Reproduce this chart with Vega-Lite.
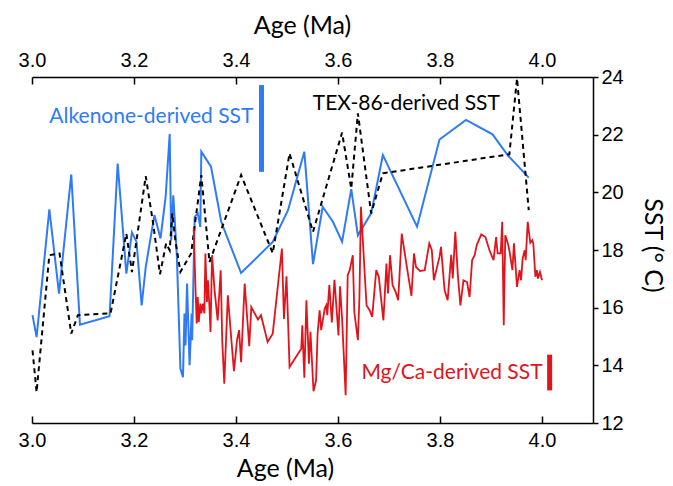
{
  "$schema": "https://vega.github.io/schema/vega-lite/v6.json",
  "width": 561,
  "height": 346,
  "autosize": {"type": "none"},
  "padding": {"left": 32, "top": 77, "right": 80, "bottom": 63},
  "background": "white",
  "config": {
    "view": {"stroke": null},
    "axis": {
      "grid": false,
      "domainColor": "black",
      "tickColor": "black",
      "labelColor": "black",
      "titleColor": "black",
      "labelFont": "Liberation Sans",
      "labelFontSize": 20,
      "titleFont": "Lato",
      "titleFontSize": 25,
      "titleFontWeight": "normal",
      "domainWidth": 1.5,
      "tickWidth": 1.5
    }
  },
  "datasets": {
    "alk": [
      {"age": 3.001, "sst": 15.74}, {"age": 3.009, "sst": 14.98}, {"age": 3.034, "sst": 19.41}, {"age": 3.053, "sst": 16.49},
      {"age": 3.077, "sst": 20.62}, {"age": 3.094, "sst": 15.41}, {"age": 3.152, "sst": 15.70}, {"age": 3.168, "sst": 21.0},
      {"age": 3.185, "sst": 17.18}, {"age": 3.196, "sst": 18.61}, {"age": 3.205, "sst": 18.28}, {"age": 3.215, "sst": 16.08},
      {"age": 3.223, "sst": 17.41}, {"age": 3.240, "sst": 19.21}, {"age": 3.252, "sst": 18.40}, {"age": 3.262, "sst": 19.84},
      {"age": 3.270, "sst": 22.02}, {"age": 3.273, "sst": 18.34}, {"age": 3.277, "sst": 19.90}, {"age": 3.284, "sst": 17.82},
      {"age": 3.291, "sst": 13.89}, {"age": 3.296, "sst": 13.59}, {"age": 3.299, "sst": 15.8}, {"age": 3.301, "sst": 14.69},
      {"age": 3.304, "sst": 16.84}, {"age": 3.309, "sst": 14.0}, {"age": 3.313, "sst": 15.8}, {"age": 3.314, "sst": 14.87},
      {"age": 3.319, "sst": 19.15}, {"age": 3.325, "sst": 19.27}, {"age": 3.330, "sst": 18.80}, {"age": 3.332, "sst": 21.41},
      {"age": 3.351, "sst": 20.89}, {"age": 3.371, "sst": 18.98}, {"age": 3.410, "sst": 17.20}, {"age": 3.472, "sst": 18.28},
      {"age": 3.502, "sst": 19.38}, {"age": 3.534, "sst": 21.41}, {"age": 3.551, "sst": 17.51}, {"age": 3.570, "sst": 19.50},
      {"age": 3.590, "sst": 18.98}, {"age": 3.608, "sst": 18.29}, {"age": 3.626, "sst": 20.11}, {"age": 3.639, "sst": 18.51},
      {"age": 3.665, "sst": 19.27}, {"age": 3.688, "sst": 21.29}, {"age": 3.755, "sst": 18.81}, {"age": 3.799, "sst": 21.83},
      {"age": 3.851, "sst": 22.51}, {"age": 3.903, "sst": 22.01}, {"age": 3.934, "sst": 21.26}, {"age": 3.974, "sst": 20.51}
    ],
    "tex": [
      {"age": 3.001, "sst": 14.52}, {"age": 3.009, "sst": 13.07}, {"age": 3.034, "sst": 17.82}, {"age": 3.054, "sst": 17.88},
      {"age": 3.077, "sst": 15.10}, {"age": 3.090, "sst": 15.74}, {"age": 3.154, "sst": 15.80}, {"age": 3.185, "sst": 18.57},
      {"age": 3.196, "sst": 17.23}, {"age": 3.223, "sst": 20.56}, {"age": 3.237, "sst": 18.98}, {"age": 3.251, "sst": 17.16},
      {"age": 3.263, "sst": 18.23}, {"age": 3.270, "sst": 17.99}, {"age": 3.275, "sst": 19.27}, {"age": 3.281, "sst": 18.34},
      {"age": 3.291, "sst": 17.24}, {"age": 3.312, "sst": 17.88}, {"age": 3.332, "sst": 20.60}, {"age": 3.348, "sst": 17.58},
      {"age": 3.410, "sst": 20.60}, {"age": 3.472, "sst": 17.89}, {"age": 3.505, "sst": 21.35}, {"age": 3.551, "sst": 18.63},
      {"age": 3.608, "sst": 22.07}, {"age": 3.626, "sst": 20.13}, {"age": 3.639, "sst": 22.74}, {"age": 3.665, "sst": 19.27},
      {"age": 3.688, "sst": 20.66}, {"age": 3.936, "sst": 21.32}, {"age": 3.951, "sst": 23.95}, {"age": 3.974, "sst": 19.38}
    ],
    "mg": [
      {"age": 3.317, "sst": 18.75}, {"age": 3.321, "sst": 16.43}, {"age": 3.323, "sst": 15.45}, {"age": 3.325, "sst": 16.37},
      {"age": 3.327, "sst": 15.50}, {"age": 3.330, "sst": 16.14}, {"age": 3.332, "sst": 15.80}, {"age": 3.335, "sst": 16.14},
      {"age": 3.338, "sst": 15.80}, {"age": 3.340, "sst": 17.88}, {"age": 3.343, "sst": 16.20}, {"age": 3.345, "sst": 16.95},
      {"age": 3.348, "sst": 16.02}, {"age": 3.350, "sst": 15.16}, {"age": 3.353, "sst": 17.82}, {"age": 3.358, "sst": 16.60},
      {"age": 3.364, "sst": 15.56}, {"age": 3.370, "sst": 17.30}, {"age": 3.373, "sst": 14.87}, {"age": 3.377, "sst": 13.36},
      {"age": 3.384, "sst": 16.43}, {"age": 3.391, "sst": 14.87}, {"age": 3.396, "sst": 13.80}, {"age": 3.402, "sst": 14.87},
      {"age": 3.406, "sst": 15.22}, {"age": 3.410, "sst": 14.11}, {"age": 3.417, "sst": 16.84}, {"age": 3.426, "sst": 14.66},
      {"age": 3.430, "sst": 16.02}, {"age": 3.443, "sst": 15.59}, {"age": 3.449, "sst": 15.74}, {"age": 3.462, "sst": 14.81},
      {"age": 3.472, "sst": 15.10}, {"age": 3.490, "sst": 18.05}, {"age": 3.494, "sst": 15.61}, {"age": 3.499, "sst": 17.09},
      {"age": 3.503, "sst": 15.04}, {"age": 3.505, "sst": 13.94}, {"age": 3.528, "sst": 14.58}, {"age": 3.530, "sst": 15.39},
      {"age": 3.534, "sst": 13.57}, {"age": 3.538, "sst": 16.26}, {"age": 3.543, "sst": 14.06}, {"age": 3.546, "sst": 15.16},
      {"age": 3.552, "sst": 13.10}, {"age": 3.557, "sst": 13.48}, {"age": 3.560, "sst": 15.10}, {"age": 3.564, "sst": 15.91},
      {"age": 3.567, "sst": 15.22}, {"age": 3.574, "sst": 15.97}, {"age": 3.577, "sst": 16.08}, {"age": 3.579, "sst": 15.74},
      {"age": 3.583, "sst": 16.78}, {"age": 3.588, "sst": 15.49}, {"age": 3.593, "sst": 16.97}, {"age": 3.601, "sst": 15.04},
      {"age": 3.604, "sst": 16.74}, {"age": 3.608, "sst": 15.63}, {"age": 3.615, "sst": 12.96}, {"age": 3.619, "sst": 17.13},
      {"age": 3.623, "sst": 17.30}, {"age": 3.629, "sst": 17.82}, {"age": 3.632, "sst": 15.85}, {"age": 3.639, "sst": 14.87},
      {"age": 3.642, "sst": 16.36}, {"age": 3.645, "sst": 19.50}, {"age": 3.652, "sst": 17.30}, {"age": 3.656, "sst": 16.08},
      {"age": 3.662, "sst": 15.91}, {"age": 3.667, "sst": 15.68}, {"age": 3.675, "sst": 17.30}, {"age": 3.680, "sst": 17.07},
      {"age": 3.689, "sst": 15.56}, {"age": 3.695, "sst": 17.53}, {"age": 3.698, "sst": 16.49}, {"age": 3.702, "sst": 17.82},
      {"age": 3.707, "sst": 16.78}, {"age": 3.713, "sst": 16.55}, {"age": 3.718, "sst": 16.26}, {"age": 3.725, "sst": 18.57},
      {"age": 3.734, "sst": 17.53}, {"age": 3.744, "sst": 16.41}, {"age": 3.749, "sst": 17.88}, {"age": 3.753, "sst": 17.41},
      {"age": 3.761, "sst": 17.27}, {"age": 3.770, "sst": 17.30}, {"age": 3.779, "sst": 18.23}, {"age": 3.784, "sst": 17.99},
      {"age": 3.788, "sst": 16.95}, {"age": 3.799, "sst": 17.76}, {"age": 3.802, "sst": 18.11}, {"age": 3.809, "sst": 16.60},
      {"age": 3.815, "sst": 16.26}, {"age": 3.822, "sst": 17.83}, {"age": 3.825, "sst": 17.01}, {"age": 3.830, "sst": 18.63},
      {"age": 3.835, "sst": 17.13}, {"age": 3.840, "sst": 16.08}, {"age": 3.846, "sst": 16.95}, {"age": 3.853, "sst": 16.89},
      {"age": 3.858, "sst": 16.37}, {"age": 3.863, "sst": 17.65}, {"age": 3.868, "sst": 17.82}, {"age": 3.872, "sst": 18.17},
      {"age": 3.881, "sst": 18.54}, {"age": 3.889, "sst": 18.45}, {"age": 3.897, "sst": 17.99}, {"age": 3.905, "sst": 17.65},
      {"age": 3.910, "sst": 18.45}, {"age": 3.913, "sst": 17.88}, {"age": 3.919, "sst": 17.88}, {"age": 3.922, "sst": 18.98},
      {"age": 3.925, "sst": 15.39}, {"age": 3.928, "sst": 18.51}, {"age": 3.933, "sst": 18.23}, {"age": 3.936, "sst": 17.99},
      {"age": 3.942, "sst": 17.30}, {"age": 3.945, "sst": 18.23}, {"age": 3.951, "sst": 16.72}, {"age": 3.956, "sst": 17.30},
      {"age": 3.959, "sst": 16.95}, {"age": 3.962, "sst": 17.70}, {"age": 3.966, "sst": 17.99}, {"age": 3.968, "sst": 17.65},
      {"age": 3.972, "sst": 18.98}, {"age": 3.977, "sst": 18.25}, {"age": 3.981, "sst": 18.34}, {"age": 3.983, "sst": 18.23},
      {"age": 3.987, "sst": 17.07}, {"age": 3.990, "sst": 17.30}, {"age": 3.992, "sst": 17.01}, {"age": 3.996, "sst": 17.24},
      {"age": 4.000, "sst": 16.95}
    ],
    "bars": [
      {"series": "Alkenone", "age": 3.45, "sst": 23.72, "sst2": 20.71},
      {"series": "MgCa", "age": 4.015, "sst": 14.37, "sst2": 13.13}
    ],
    "labels": [
      {"series": "Alkenone", "age": 3.234, "sst": 22.40, "text": "Alkenone-derived SST"},
      {"series": "TEX86", "age": 3.734, "sst": 22.85, "text": "TEX-86-derived SST"},
      {"series": "MgCa", "age": 3.8235, "sst": 13.54, "text": "Mg/Ca-derived SST"}
    ]
  },
  "layer": [
    {
      "data": {"name": "alk"},
      "mark": {"type": "line", "color": "#2f7bf5", "strokeWidth": 2},
      "encoding": {
        "x": {
          "field": "age", "type": "quantitative",
          "scale": {"domain": [3.0, 4.1], "nice": false, "zero": false},
          "axis": {
            "orient": "top", "values": [3.0, 3.2, 3.4, 3.6, 3.8, 4.0], "format": ".1f",
            "title": "Age (Ma)", "tickSize": -7, "labelPadding": 14, "labelFlush": false,
            "titleX": 270, "titleY": -52, "titleAlign": "center", "titleBaseline": "middle"
          }
        },
        "y": {
          "field": "sst", "type": "quantitative",
          "scale": {"domain": [12, 24], "nice": false, "zero": false},
          "axis": {
            "orient": "right", "values": [12, 14, 16, 18, 20, 22, 24], "title": "SST (° C)",
            "tickSize": 5, "labelPadding": 3, "labelFlush": false, "labelAlign": "left", "labelBaseline": "middle",
            "titleAngle": 90, "titleX": 59, "titleY": 168, "titleAlign": "center", "titleBaseline": "middle"
          }
        }
      }
    },
    {
      "data": {"name": "tex"},
      "mark": {"type": "line", "color": "black", "strokeWidth": 2, "strokeDash": [5, 4]},
      "encoding": {
        "x": {"field": "age", "type": "quantitative", "axis": null},
        "y": {"field": "sst", "type": "quantitative", "axis": null}
      }
    },
    {
      "data": {"name": "mg"},
      "mark": {"type": "line", "color": "#e0151b", "strokeWidth": 1.8},
      "encoding": {
        "x": {
          "field": "age", "type": "quantitative",
          "axis": {
            "orient": "bottom", "values": [3.0, 3.2, 3.4, 3.6, 3.8, 4.0], "format": ".1f",
            "title": "Age (Ma)", "tickSize": -7, "labelPadding": 14, "labelFlush": false,
            "titleX": 253, "titleY": 45, "titleAlign": "center", "titleBaseline": "middle"
          }
        },
        "y": {"field": "sst", "type": "quantitative", "axis": null}
      }
    },
    {
      "data": {"name": "bars"},
      "mark": {"type": "rule", "strokeWidth": 5},
      "encoding": {
        "x": {"field": "age", "type": "quantitative", "axis": null},
        "y": {"field": "sst", "type": "quantitative", "axis": null},
        "y2": {"field": "sst2"},
        "color": {
          "field": "series", "type": "nominal", "legend": null,
          "scale": {"domain": ["Alkenone", "TEX86", "MgCa"], "range": ["#2f7bf5", "black", "#e0151b"]}
        }
      }
    },
    {
      "data": {"name": "labels"},
      "mark": {"type": "text", "font": "Lato", "fontSize": 21, "align": "center", "baseline": "alphabetic"},
      "encoding": {
        "x": {"field": "age", "type": "quantitative", "axis": null},
        "y": {"field": "sst", "type": "quantitative", "axis": null},
        "text": {"field": "text"},
        "color": {
          "field": "series", "type": "nominal", "legend": null,
          "scale": {"domain": ["Alkenone", "TEX86", "MgCa"], "range": ["#2f7bf5", "black", "#e0151b"]}
        }
      }
    }
  ],
  "resolve": {"axis": {"x": "independent", "y": "independent"}}
}
